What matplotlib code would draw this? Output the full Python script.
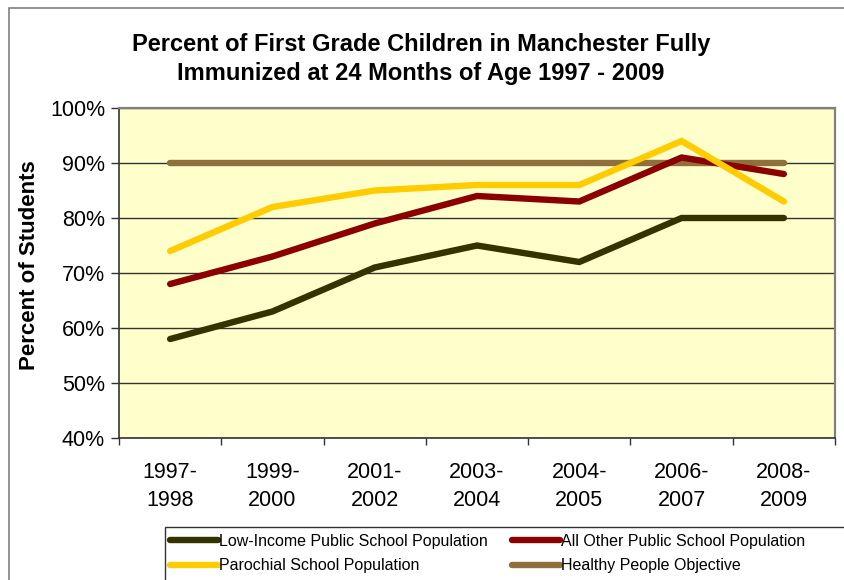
import matplotlib
matplotlib.use("Agg")
import matplotlib.pyplot as plt
from matplotlib.patches import Rectangle
from matplotlib.ticker import FixedLocator, PercentFormatter

categories = ["1997-\n1998", "1999-\n2000", "2001-\n2002", "2003-\n2004",
              "2004-\n2005", "2006-\n2007", "2008-\n2009"]
low_income = [58, 63, 71, 75, 72, 80, 80]
all_other = [68, 73, 79, 84, 83, 91, 88]
parochial = [74, 82, 85, 86, 86, 94, 83]
healthy = [90, 90, 90, 90, 90, 90, 90]

series = [
    ("Low-Income Public School Population", low_income, "#333300"),
    ("All Other Public School Population", all_other, "#8B0000"),
    ("Parochial School Population", parochial, "#FFCC00"),
    ("Healthy People Objective", healthy, "#8F6F3B"),
]

plt.rcParams['font.family'] = ['Liberation Sans', 'DejaVu Sans']

W, H = 844, 580
fig = plt.figure(figsize=(W / 100, H / 100), dpi=100)
ax = fig.add_axes([119 / W, 1 - 438 / H, (835 - 119) / W, (438 - 108) / H])
ax.set_facecolor("#FFFFCC")

# outer frame
fig.patches.append(Rectangle((9 / W, -0.1), 1.2, (1 - 8 / H) + 0.1,
                             transform=fig.transFigure, fill=False,
                             edgecolor="#808080", linewidth=1.2, clip_on=False))

x = list(range(len(categories)))
lines = []
for name, vals, col in series:
    ln, = ax.plot(x, vals, color=col, linewidth=4.6, solid_capstyle="round",
                  solid_joinstyle="miter", label=name, zorder=3)
    lines.append(ln)
lines[3].set_zorder(2.5)

ax.set_xlim(-0.5, len(categories) - 0.5)
ax.set_ylim(40, 100)
ax.yaxis.set_major_locator(FixedLocator([40, 50, 60, 70, 80, 90, 100]))
ax.yaxis.set_major_formatter(PercentFormatter(decimals=0))
ax.grid(axis="y", color="#333333", linewidth=1.0, zorder=1)
ax.set_axisbelow(True)

ax.xaxis.set_major_locator(FixedLocator([i - 0.5 for i in range(len(categories) + 1)]))
ax.xaxis.set_major_formatter(plt.NullFormatter())
ax.xaxis.set_minor_locator(FixedLocator(x))
ax.set_xticklabels(categories, minor=True)
for t in ax.get_xticklabels(minor=True):
    t.set_linespacing(1.45)
ax.tick_params(axis="x", which="major", direction="out", length=5, width=1, color="#333333")
ax.tick_params(axis="x", which="minor", length=0, labelsize=15.5, pad=17)
ax.tick_params(axis="y", direction="out", length=6, width=1, color="#333333", labelsize=15.5, pad=4)

for s in ["left", "bottom"]:
    ax.spines[s].set_color("#333333")
    ax.spines[s].set_linewidth(1.2)
for s in ["top", "right"]:
    ax.spines[s].set_color("#808080")
    ax.spines[s].set_linewidth(1.6)

fig.text(421 / W, 1 - 59 / H,
         "Percent of First Grade Children in Manchester Fully\nImmunized at 24 Months of Age 1997 - 2009",
         ha="center", va="center", fontsize=17, fontweight="bold", linespacing=1.35)
fig.text(30 / W, 1 - 265 / H, "Percent of Students", rotation=90, ha="center",
         va="center", fontsize=16, fontweight="bold")

# legend box
fig.patches.append(Rectangle((165 / W, -0.1), 1.2, (1 - 527 / H) + 0.1,
                             transform=fig.transFigure, fill=False,
                             edgecolor="#333333", linewidth=1.0, clip_on=False))
order = [0, 2, 1, 3]
leg = fig.legend(handles=[lines[i] for i in order], loc="upper left",
                 bbox_to_anchor=(168 / W, 1 - 532 / H), ncol=2, frameon=False,
                 fontsize=11.5, handlelength=3.0, handletextpad=0.1,
                 columnspacing=1.5, borderaxespad=0, borderpad=0.1,
                 labelspacing=0.6)
for h in leg.legend_handles:
    h.set_linewidth(4.6)

fig.savefig("out.png", dpi=100)
